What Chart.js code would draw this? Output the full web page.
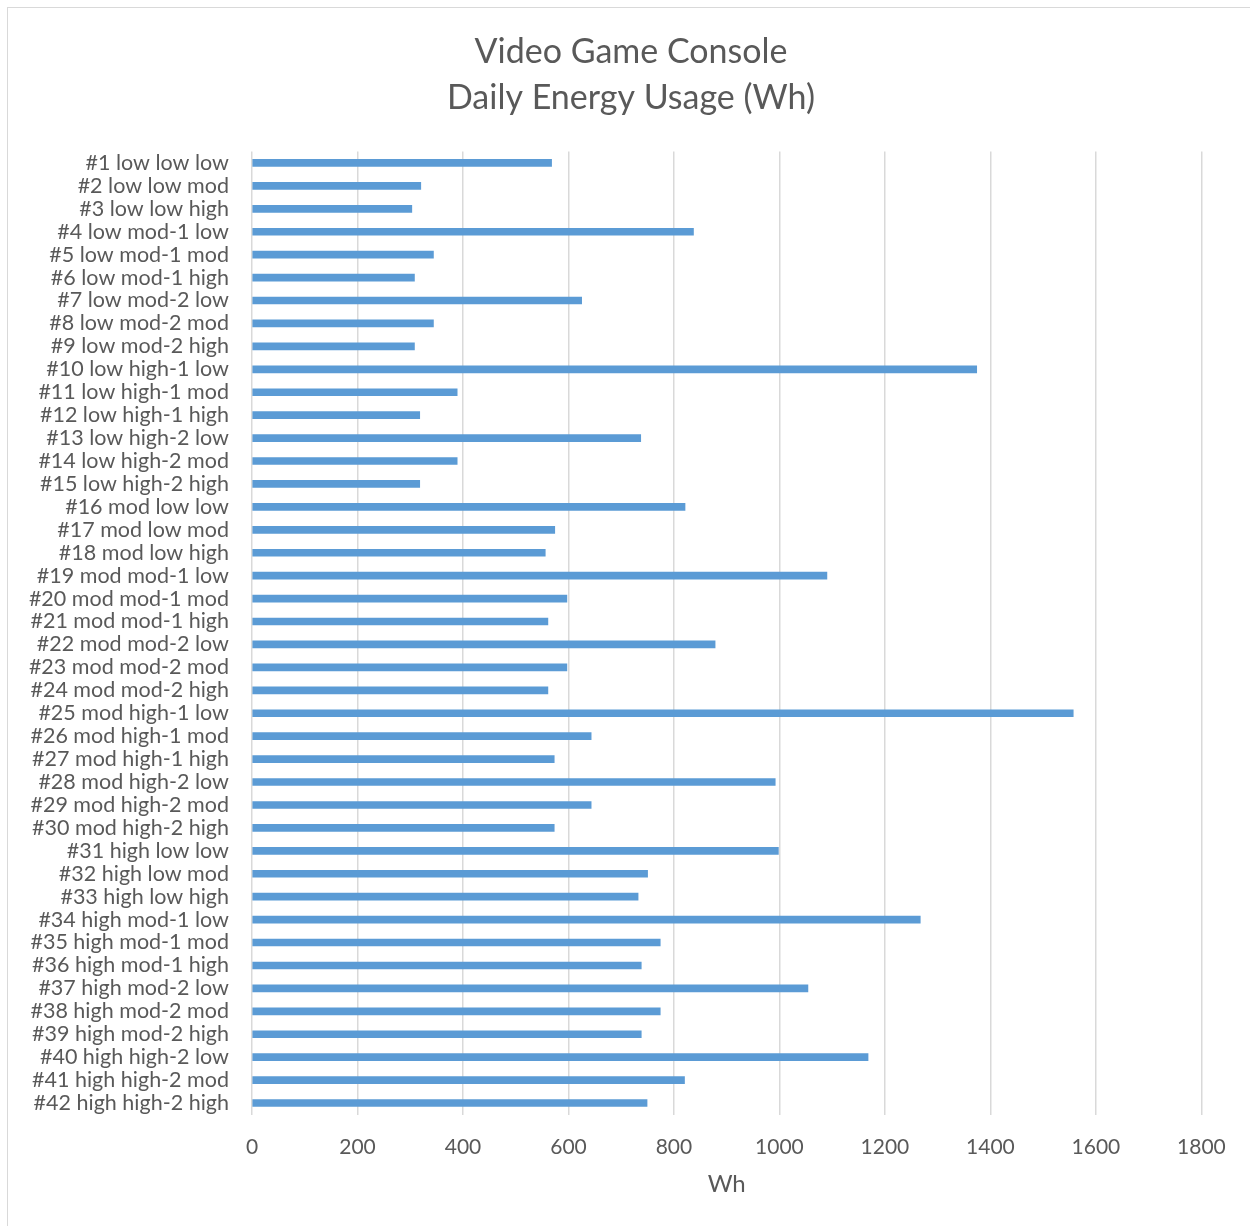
<!DOCTYPE html>
<html>
<head>
<meta charset="utf-8">
<script src="https://cdn.jsdelivr.net/npm/chart.js@4"></script>
<style>
  body { margin: 0; background: #fff; }
  #frame { position: absolute; left: 7px; top: 7px; width: 1260px; height: 1240px; border: 1px solid #d9d9d9; }
  #wrap { position: absolute; left: 0; top: 0; width: 1250px; height: 1226px; }
</style>
</head>
<body>
<div id="frame"></div>
<div id="wrap"><canvas id="grafico_barras" width="1250" height="1226"></canvas></div>
<script>
// configurações (ventilação / uso / tela) de cada cenário
const categorias = [
  '#1 low low low', '#2 low low mod', '#3 low low high',
  '#4 low mod-1 low', '#5 low mod-1 mod', '#6 low mod-1 high',
  '#7 low mod-2 low', '#8 low mod-2 mod', '#9 low mod-2 high',
  '#10 low high-1 low', '#11 low high-1 mod', '#12 low high-1 high',
  '#13 low high-2 low', '#14 low high-2 mod', '#15 low high-2 high',
  '#16 mod low low', '#17 mod low mod', '#18 mod low high',
  '#19 mod mod-1 low', '#20 mod mod-1 mod', '#21 mod mod-1 high',
  '#22 mod mod-2 low', '#23 mod mod-2 mod', '#24 mod mod-2 high',
  '#25 mod high-1 low', '#26 mod high-1 mod', '#27 mod high-1 high',
  '#28 mod high-2 low', '#29 mod high-2 mod', '#30 mod high-2 high',
  '#31 high low low', '#32 high low mod', '#33 high low high',
  '#34 high mod-1 low', '#35 high mod-1 mod', '#36 high mod-1 high',
  '#37 high mod-2 low', '#38 high mod-2 mod', '#39 high mod-2 high',
  '#40 high high-2 low', '#41 high high-2 mod', '#42 high high-2 high'
]

// consumo diário em Wh
const energiaWh = [
  568, 320, 303,
  837, 344, 308,
  625, 344, 308,
  1374, 389, 318,
  737, 389, 318,
  821, 574, 556,
  1090, 597, 561,
  878, 597, 561,
  1557, 643, 573,
  992, 643, 573,
  998, 750, 732,
  1267, 774, 738,
  1054, 774, 738,
  1168, 820, 749
]

const eixoX = { min: 0, max: 1800, passo: 200 }

const titulo = ['Video Game Console', 'Daily Energy Usage (Wh)']

let ctx = document.getElementById('grafico_barras')

Chart.defaults.color = '#595959'
Chart.defaults.font.family = 'Lato, sans-serif'
Chart.defaults.font.size = 21.5

const data = {
  labels: categorias,
  datasets: [{
    data: energiaWh,
    backgroundColor: '#5b9bd5',
    barThickness: 7
  }]
}

const config = {
  type: 'bar',
  data,
  options: {
    indexAxis: 'y',
    responsive: false,
    animation: false,
    layout: { padding: { left: 12, right: 0, top: 0, bottom: 0 } },
    plugins: {
      legend: { display: false },
      tooltip: { enabled: false },
      title: {
        display: true,
        text: titulo,
        color: '#595959',
        font: { size: 34, weight: 'normal', lineHeight: 1.36 },
        padding: { top: 29, bottom: 30 }
      }
    },
    scales: {
      x: {
        min: eixoX.min,
        max: eixoX.max,
        ticks: {
          stepSize: eixoX.passo,
          padding: 20,
          color: '#595959',
          font: { size: 21 },
          callback: (v) => String(v)   // sem separador de milhar
        },
        grid: { color: '#d9d9d9', lineWidth: 1.5, drawTicks: false },
        border: { display: false },
        title: {
          display: true,
          text: 'Wh',
          color: '#595959',
          font: { size: 24 },
          padding: { top: 0, bottom: 27 }
        },
        afterFit: (scale) => { scale.height = 111.5 }
      },
      y: {
        ticks: { padding: 23, color: '#595959', autoSkip: false },
        grid: { display: false, drawTicks: false },
        border: { display: false },
        afterFit: (scale) => { scale.width = 240 }
      },
      // margem à direita do gráfico
      direita: {
        axis: 'y',
        position: 'right',
        display: true,
        ticks: { display: false },
        grid: { display: false, drawTicks: false },
        border: { display: false },
        afterFit: (scale) => { scale.width = 48.6 }
      }
    }
  }
}

const graph = new Chart(ctx, config)
</script>
</body>
</html>
